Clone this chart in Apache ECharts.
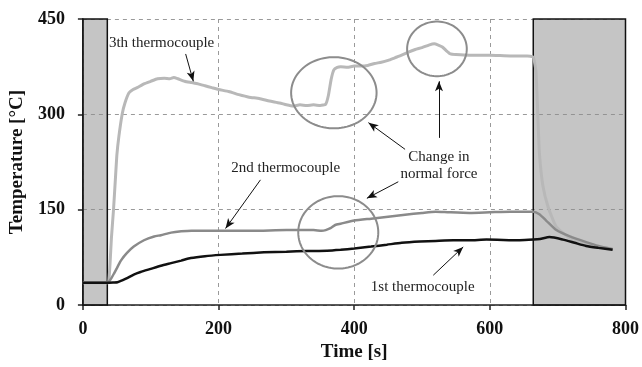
<!DOCTYPE html>
<html><head><meta charset="utf-8">
<script src="https://cdn.jsdelivr.net/npm/echarts@6/dist/echarts.min.js"></script>
<style>html,body{margin:0;padding:0;background:#fff}#chart{width:642px;height:367px}</style>
</head><body><div id="chart"></div><script>
// Temperature histories of the three thermocouples, [time s, temperature °C]
const tc1 = [[0,35],[36,35],[45,35.5],[51,36],[58,39],[66,43],[75,48],[85,52],[100,57],[115,62],[130,66],[145,70],[159,74],[180,77],[203,79],[235,81],[267,83],[300,84],[330,85],[360,85.5],[380,87],[400,89],[425,92],[448,95],[470,98],[497,100],[520,101],[546,102],[570,102],[595,103],[644,102],[664,103],[674,104],[688,107],[708,103],[725,98],[742,93],[760,90],[781,87]];
const tc2 = [[0,35],[36,35],[40,39],[46,50],[52,62],[56,70],[65,82],[75,92],[90,102],[105,108],[115,110],[130,114],[145,116],[160,117],[200,117],[250,117],[300,118],[340,118],[352,117],[358,118],[365,121],[372,126],[380,128],[400,133],[425,136],[450,139],[475,142],[500,145],[520,147],[540,146],[570,145],[600,146],[630,147],[664,147],[673,143],[683,133],[698,118],[718,108],[742,99],[760,93],[781,88]];
const tc3 = [[0,35],[36,35],[38,36],[40,65],[42,105],[45,148],[48,200],[50,235],[53,265],[58,301],[62,318],[68,334],[74,339],[80,342],[90,348],[100,352],[110,356],[120,357],[128,356],[134,358],[140,356],[150,352],[160,350],[170,348],[180,345],[190,342],[200,339],[215,336],[230,331],[245,327],[260,325],[275,321],[290,318],[300,315],[310,313],[320,315],[330,314],[340,315],[350,314],[358,316],[362,330],[366,355],[370,370],[375,374],[380,375],[390,374],[400,376],[410,376],[420,377],[430,380],[440,382],[450,385],[460,389],[470,393],[480,398],[490,402],[500,405],[510,409],[518,411],[524,409],[530,406],[536,400],[542,395],[550,394],[570,393],[600,393],[630,392],[655,392],[664,390],[668,367],[671,291],[673,240],[678,189],[686,154],[698,123],[718,105],[742,95],[760,91],[781,88.5]];

// Shaded time intervals [start, end] in s
const shadedIntervals = [[0,36],[664,800]];

// Axis ticks
const xTicks = [0,200,400,600,800];
const yTicks = [0,150,300,450];

// Highlight ellipses: [centre t, centre T, radius in s, radius in °C]
const ellipses = [[370,334,63,56],[522,403,44,43],[376.5,114.4,59,57]];

// Arrows: [from t, from T, to t, to T]
const arrows = [[151.5,395,162.8,352],[261.8,197,210.3,120.5],[475,245,421,287],[525,263,525,352],[465,194,418.7,168],[516.6,47,560.7,91.5]];

// Annotation texts: [t, T, text]
const notes = [[116,412,'3th thermocouple'],[299,215,'2nd thermocouple'],[525,233,'Change in'],[525,206,'normal force'],[501,28,'1st thermocouple']];

const serif = '"Liberation Serif","Times New Roman",serif';
const chart = echarts.init(document.getElementById('chart'));

function ellipsePts(cx, cy, rx, ry) {
  const pts = [];
  for (let i = 0; i < 90; i++) {
    const a = i / 90 * Math.PI * 2;
    pts.push([cx + rx * Math.cos(a), cy + ry * Math.sin(a)]);
  }
  return pts;
}

const gridDash = {color: '#9a9a9a', type: [4, 4], width: 1};

chart.setOption({
  animation: false,
  backgroundColor: '#fff',
  grid: {left: 82, right: 16, top: 19, bottom: 53},
  xAxis: {
    type: 'value', min: xTicks[0], max: xTicks[xTicks.length - 1], interval: 200,
    name: 'Time [s]', nameLocation: 'middle', nameGap: 33,
    nameTextStyle: {fontFamily: serif, fontWeight: 'bold', fontSize: 19, color: '#111'},
    axisLine: {lineStyle: {color: '#222', width: 1.5}},
    axisTick: {show: true, length: 5, lineStyle: {color: '#222', width: 1.5}},
    axisLabel: {fontFamily: serif, fontWeight: 'bold', fontSize: 18, color: '#111', margin: 15},
    splitLine: {show: true, lineStyle: gridDash}
  },
  yAxis: {
    type: 'value', min: yTicks[0], max: yTicks[yTicks.length - 1], interval: 150,
    name: 'Temperature [°C]', nameLocation: 'middle', nameGap: 52,
    nameTextStyle: {fontFamily: serif, fontWeight: 'bold', fontSize: 19, color: '#111'},
    axisLine: {show: true, lineStyle: {color: '#222', width: 1.5}},
    axisTick: {show: true, length: 5, lineStyle: {color: '#222', width: 1.5}},
    axisLabel: {fontFamily: serif, fontWeight: 'bold', fontSize: 18, color: '#111', margin: 18},
    splitLine: {show: true, lineStyle: gridDash}
  },
  series: [
    {
      // translucent gray so the dashed grid stays visible through the shading
      type: 'line', data: [], z: 0, silent: true,
      markArea: {
        silent: true,
        itemStyle: {color: 'rgba(140,140,140,0.5)', borderColor: '#111', borderWidth: 1.5},
        data: shadedIntervals.map(iv => [{xAxis: iv[0], yAxis: yTicks[yTicks.length - 1]}, {xAxis: iv[1], yAxis: yTicks[0]}])
      }
    },
    {type: 'line', name: '3th thermocouple', data: tc3, z: 3, showSymbol: false, smooth: 0.15,
      lineStyle: {color: '#b8b8b8', width: 3}},
    {type: 'line', name: '2nd thermocouple', data: tc2, z: 4, showSymbol: false, smooth: 0.2,
      lineStyle: {color: '#8a8a8a', width: 2.5}},
    {type: 'line', name: '1st thermocouple', data: tc1, z: 5, showSymbol: false, smooth: 0.2,
      lineStyle: {color: '#111', width: 2.5}},
    {
      type: 'custom', z: 6, silent: true, data: ellipses,
      encode: {x: 0, y: 1},
      renderItem: (params, api) => {
        const c = api.coord([api.value(0), api.value(1)]);
        const s = api.size([api.value(2), api.value(3)]);
        return {type: 'polygon', shape: {points: ellipsePts(c[0], c[1], s[0], s[1])},
          style: {fill: 'none', stroke: '#8c8c8c', lineWidth: 2}};
      }
    },
    {
      type: 'line', data: [], z: 7, silent: true,
      markLine: {
        silent: true, symbol: ['none', 'arrow'], symbolSize: [6, 10],
        label: {show: false},
        lineStyle: {color: '#111', width: 1, type: 'solid'},
        data: arrows.map(a => [{coord: [a[0], a[1]]}, {coord: [a[2], a[3]]}])
      }
    },
    {
      type: 'custom', z: 8, silent: true, data: notes.map(n => [n[0], n[1]]),
      encode: {x: 0, y: 1},
      renderItem: (params, api) => {
        const c = api.coord([api.value(0), api.value(1)]);
        return {type: 'text', x: c[0], y: c[1],
          style: {text: notes[params.dataIndex][2], fontFamily: serif, fontSize: 15, fill: '#222',
            align: 'center', verticalAlign: 'middle'}};
      }
    }
  ]
});
</script></body></html>
